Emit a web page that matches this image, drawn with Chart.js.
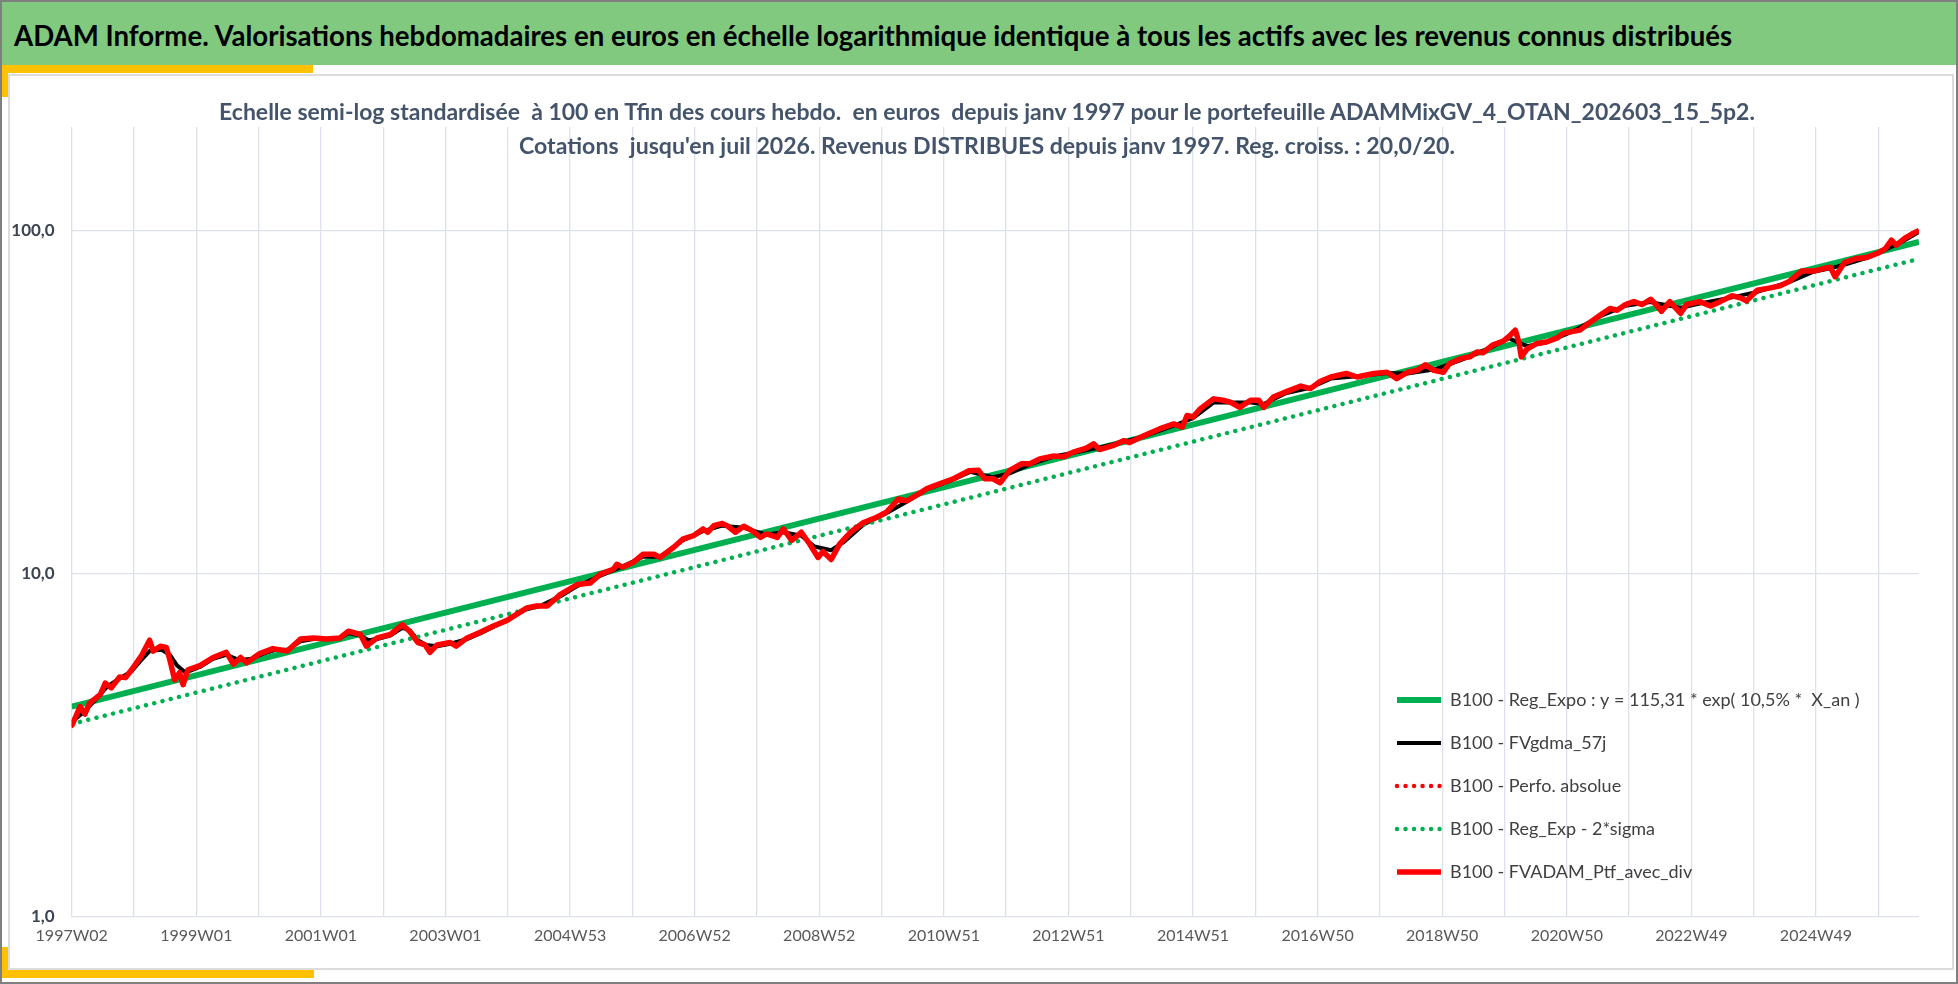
<!DOCTYPE html>
<html lang="fr">
<head>
<meta charset="utf-8">
<title>ADAM Informe</title>
<script src="https://cdn.jsdelivr.net/npm/chart.js@4.4.1/dist/chart.umd.min.js"></script>
<style>
  html, body { margin: 0; padding: 0; background: #fff; }
  #page { position: relative; width: 1958px; height: 984px; overflow: hidden; font-family: Lato, sans-serif; }
  #cadreExt { position: absolute; left: 0; top: 0; width: 1958px; height: 984px; box-sizing: border-box; border: 2px solid #7f7f7f; z-index: 3; pointer-events: none; }
  #bandeau { position: absolute; left: 2px; top: 2px; width: 1954px; height: 63px; background: #81c97f; }
  #titre { position: absolute; left: 12px; top: 34px; transform: translateY(-50%); font-size: 28px; font-weight: bold; white-space: pre; color: #000; line-height: 1; }
  .jaune { position: absolute; background: #ffc000; z-index: 4; }
  #cadre { position: absolute; left: 8px; top: 74px; width: 1946px; height: 896px; box-sizing: border-box; border: 2px solid #dcdcdc; }
  .sous { position: absolute; left: 987px; transform: translate(-50%, -50%); font-size: 22px; font-weight: bold; color: #44546a; white-space: pre; line-height: 1; z-index: 2; }
  #graphique { position: absolute; left: 10px; top: 76px; }
</style>
</head>
<body>
<div id="page">
  <div id="bandeau"><div id="titre">ADAM Informe. Valorisations hebdomadaires en euros en échelle logarithmique identique à tous les actifs avec les revenus connus distribués</div></div>
  <div class="jaune" style="left:2px; top:65px; width:311px; height:8px;"></div>
  <div class="jaune" style="left:2px; top:65px; width:6px; height:32px;"></div>
  <div class="jaune" style="left:2px; top:947px; width:6px; height:31px;"></div>
  <div class="jaune" style="left:2px; top:970px; width:312px; height:8px;"></div>
  <div id="cadre"></div>
  <div class="sous" id="sous1" style="top:112px;">Echelle semi-log standardisée  à 100 en Tfin des cours hebdo.  en euros  depuis janv 1997 pour le portefeuille ADAMMixGV_4_OTAN_202603_15_5p2.</div>
  <div class="sous" id="sous2" style="top:146px;">Cotations  jusqu'en juil 2026. Revenus DISTRIBUES depuis janv 1997. Reg. croiss. : 20,0/20.</div>
  <canvas id="graphique" width="1940" height="890"></canvas>
  <div id="cadreExt"></div>
</div>

<script>
// semaines depuis 1997W02 (index hebdo) et valeurs base 100 en fin de période
const semainesPtf = [0,7,11,15,24,28,33,40,45,50,58,65,68,74,79,82,86,90,93,97,107,118,129,135,141,146,157,168,180,191,202,213,224,231,241,246,255,266,276,282,289,295,299,305,316,321,330,341,352,363,371,380,388,397,408,422,433,441,452,455,460,469,477,486,491,502,510,519,527,531,536,543,547,554,561,568,575,580,589,594,601,609,616,623,627,634,641,650,661,672,680,690,697,705,714,725,736,749,757,762,769,775,783,793,800,808,819,828,836,847,853,858,869,878,883,895,908,920,927,931,936,942,953,961,967,975,984,991,995,1003,1014,1026,1034,1042,1051,1064,1073,1087,1098,1106,1115,1123,1130,1137,1145,1150,1159,1167,1173,1178,1186,1195,1200,1205,1208,1210,1215,1223,1231,1240,1245,1251,1259,1265,1276,1284,1290,1297,1304,1311,1318,1323,1327,1334,1343,1348,1359,1368,1376,1386,1393,1398,1407,1418,1426,1434,1444,1454,1462,1468,1472,1480,1490,1498,1507,1514,1519,1523,1530,1537,1542];
const valPtf = [3.6,4.1,3.9,4.2,4.45,4.8,4.65,5.0,4.98,5.25,5.75,6.4,5.95,6.15,6.1,5.6,4.9,5.15,4.75,5.25,5.4,5.7,5.9,5.45,5.7,5.5,5.85,6.05,5.95,6.45,6.5,6.45,6.5,6.8,6.65,6.15,6.5,6.65,7.1,6.8,6.3,6.2,5.9,6.2,6.3,6.15,6.5,6.75,7.04,7.3,7.6,7.95,8.05,8.05,8.7,9.3,9.4,9.95,10.3,10.65,10.45,10.8,11.4,11.4,11.15,11.9,12.6,12.9,13.5,13.2,13.8,14.0,13.8,13.2,13.75,13.35,12.75,13.05,12.75,13.5,12.5,13.2,12.2,11.15,11.6,11.0,12.2,13.2,14.1,14.6,15.1,16.5,16.3,16.9,17.7,18.3,18.9,19.95,20.0,18.9,18.9,18.4,20.0,20.9,20.9,21.6,22.0,21.9,22.6,23.2,23.9,23.0,23.6,24.4,24.1,25.2,26.4,27.3,26.7,28.9,28.6,30.2,32.3,32.0,31.6,30.5,32.0,32.0,30.5,32.7,33.9,35.2,34.6,36.3,37.4,38.3,37.4,38.3,38.6,37.0,38.6,39.1,40.6,39.1,38.6,40.9,42.3,42.8,44.2,44.0,46.3,47.6,49.2,51.2,47.3,42.8,45.2,46.8,47.3,48.6,50.1,50.6,51.2,53.2,56.7,59.2,58.5,60.8,62.0,60.8,63.0,60.5,58.1,62.0,57.3,60.8,62.0,60.2,62.0,64.5,63.6,62.3,66.9,68.0,68.9,71.1,76.1,76.1,77.4,78.1,73.3,80.7,82.8,83.3,85.6,88.5,93.7,90.6,94.8,98.0,100.0];

// moyenne mobile 57 jours (plus lisse)
const semainesMoy = [0,10,20,30,40,50,58,65,75,82,88,95,107,118,129,140,150,160,170,180,191,202,213,224,231,241,248,255,266,276,282,289,296,305,316,330,341,352,363,378,391,408,422,441,460,477,491,510,527,543,561,580,594,609,620,634,645,661,680,697,714,736,750,769,783,800,819,836,858,878,895,920,936,953,967,984,995,1014,1034,1051,1073,1098,1115,1137,1159,1186,1200,1208,1215,1231,1251,1276,1297,1318,1343,1359,1386,1407,1434,1454,1468,1480,1498,1514,1530,1542];
const valMoy = [3.7,3.95,4.3,4.7,4.95,5.2,5.6,5.95,6.0,5.8,5.4,5.15,5.35,5.65,5.8,5.6,5.65,5.85,6.0,6.0,6.35,6.45,6.45,6.5,6.7,6.6,6.4,6.45,6.6,6.95,6.85,6.4,6.2,6.15,6.25,6.45,6.7,7.0,7.3,7.85,8.05,8.6,9.2,9.85,10.5,11.2,11.2,12.5,13.3,13.8,13.6,13.0,13.2,12.9,12.0,11.7,12.4,13.9,15.0,16.2,17.6,18.8,19.8,19.1,19.6,20.8,21.9,22.5,23.3,24.2,25.1,27.0,28.4,31.5,31.5,31.5,31.2,33.6,34.8,37.0,37.6,38.4,38.3,39.3,41.8,45.8,48.5,47.0,46.0,47.2,50.4,56.2,60.3,61.8,59.5,61.2,63.8,66.2,70.8,75.8,77.5,79.5,83.0,87.8,93.5,99.0];

// régression exponentielle (droite en semi-log) : début et fin
const semainesReg = [0, 1542];
const valReg = [4.1, 92.5];
const valReg2Sigma = [3.65, 82.6];

const etiquettesX = ["1997W02","1999W01","2001W01","2003W01","2004W53","2006W52","2008W52","2010W51","2012W51","2014W51","2016W50","2018W50","2020W50","2022W49","2024W49"];
const ticksY = [1, 10, 100];

const nomsSeries = [
  "B100 - Reg_Expo : y = 115,31 * exp( 10,5% *  X_an )",
  "B100 - FVgdma_57j",
  "B100 - Perfo. absolue",
  "B100 - Reg_Exp - 2*sigma",
  "B100 - FVADAM_Ptf_avec_div"
];

const VERT = "#00b050";
const ROUGE = "#ff0000";
const POLICE = "Lato, sans-serif";

function ajusterLargeur(id, largeur) {
  const el = document.getElementById(id);
  const taille = parseFloat(getComputedStyle(el).fontSize);
  el.style.fontSize = (taille * largeur / el.offsetWidth) + "px";
}
ajusterLargeur("titre", 1718);
ajusterLargeur("sous1", 1537);
ajusterLargeur("sous2", 937);

function points(xs, ys) {
  return xs.map((x, i) => ({ x: x, y: ys[i] }));
}

const grilleX = [];
for (let s = 0; s <= 1542; s += 52) grilleX.push(s);

// la légende se place dans la zone de tracé, en bas à droite
const placerLegende = {
  id: "placerLegende",
  afterLayout(chart) {
    const lg = chart.legend;
    lg.left = 1362;
    lg.top = 590;
    lg.right = chart.chartArea.right;
    lg.bottom = chart.chartArea.bottom;
  }
};

// avec usePointStyle les pointillés ne sont pas repris : on les remet
function etiquettesLegende(chart) {
  const items = Chart.defaults.plugins.legend.labels.generateLabels(chart);
  items.forEach(it => {
    const ds = chart.data.datasets[it.datasetIndex];
    it.lineDash = ds.borderDash || [];
    it.lineCap = ds.borderCapStyle || "butt";
    it.lineWidth = ds.borderWidth;
    it.strokeStyle = ds.borderColor;
  });
  return items;
}

const styleLigne = { pointRadius: 0, pointHoverRadius: 0, fill: false, tension: 0, borderJoinStyle: "round" };

new Chart(document.getElementById("graphique").getContext("2d"), {
  type: "line",
  data: {
    datasets: [
      Object.assign({ label: nomsSeries[0], data: points(semainesReg, valReg), borderColor: VERT, backgroundColor: VERT, borderWidth: 6, order: 5 }, styleLigne),
      Object.assign({ label: nomsSeries[1], data: points(semainesMoy, valMoy), borderColor: "#000", backgroundColor: "#000", borderWidth: 4, order: 4 }, styleLigne),
      Object.assign({ label: nomsSeries[2], data: points(semainesPtf, valPtf), borderColor: ROUGE, backgroundColor: ROUGE, borderWidth: 4.5, borderDash: [0.01, 8.5], borderCapStyle: "round", order: 3 }, styleLigne),
      Object.assign({ label: nomsSeries[3], data: points(semainesReg, valReg2Sigma), borderColor: VERT, backgroundColor: VERT, borderWidth: 4.5, borderDash: [0.01, 8.5], borderCapStyle: "round", order: 2 }, styleLigne),
      Object.assign({ label: nomsSeries[4], data: points(semainesPtf, valPtf), borderColor: ROUGE, backgroundColor: ROUGE, borderWidth: 5.5, order: 1 }, styleLigne)
    ]
  },
  options: {
    responsive: false,
    animation: false,
    devicePixelRatio: 1,
    events: [],
    layout: { padding: { left: 0, top: 51, right: 31, bottom: 0 } },
    plugins: {
      title: { display: false },
      tooltip: { enabled: false },
      legend: {
        position: "chartArea",
        align: "start",
        reverse: true,
        labels: {
          usePointStyle: true,
          pointStyle: "line",
          pointStyleWidth: 44,
          padding: 25,
          color: "#404040",
          font: { family: POLICE, size: 18 },
          generateLabels: etiquettesLegende
        }
      }
    },
    scales: {
      x: {
        type: "linear",
        min: 0,
        max: 1542,
        afterBuildTicks: s => { s.ticks = grilleX.map(v => ({ value: v })); },
        afterFit: s => { s.height = 49; },
        grid: { color: "#dde1e9", lineWidth: 1.3, drawTicks: false },
        border: { display: false },
        ticks: {
          autoSkip: false,
          maxRotation: 0,
          padding: 9,
          color: "#595959",
          font: { family: POLICE, size: 16 },
          callback: (v, i) => (i % 2 === 0 ? etiquettesX[i / 2] : "")
        }
      },
      y: {
        type: "logarithmic",
        min: 1,
        max: 200,
        afterBuildTicks: s => { s.ticks = ticksY.map(v => ({ value: v })); },
        afterFit: s => { s.width = 61.7; },
        grid: { color: "#dde1e9", lineWidth: 1.3, drawTicks: false },
        border: { display: false },
        ticks: {
          padding: 17,
          color: "#3b4452",
          font: { family: POLICE, size: 17, weight: "bold" },
          callback: v => v.toFixed(1).replace(".", ",")
        }
      }
    }
  },
  plugins: [placerLegende]
});
</script>
</body>
</html>
